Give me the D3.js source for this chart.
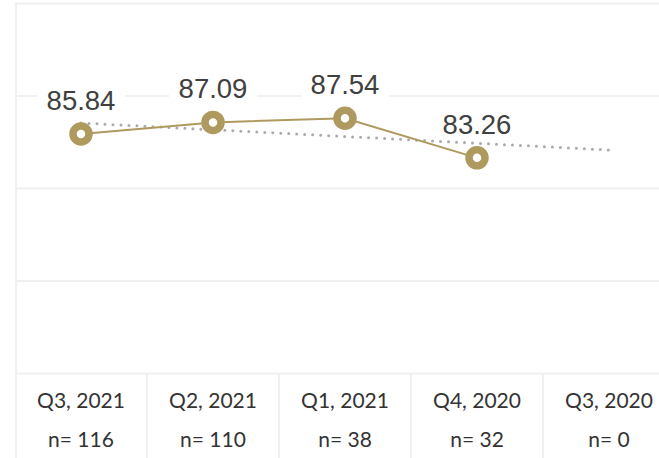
<!DOCTYPE html>
<html>
<head>
<meta charset="utf-8">
<script src="https://cdn.jsdelivr.net/npm/d3@7"></script>
<style>
  html, body { margin: 0; padding: 0; background: #fff; overflow: hidden; }
  svg { display: block; }
</style>
</head>
<body>
<div id="chart"></div>
<script>
// quarters, newest first
var categories = ["Q3, 2021", "Q2, 2021", "Q1, 2021", "Q4, 2020", "Q3, 2020"];
var counts = [116, 110, 38, 32, 0];
var scores = [85.84, 87.09, 87.54, 83.26, null];
var yTicks = [60, 70, 80, 90, 100];

var W = 659, H = 458;
var gold = "#ae9a5e", grid = "#f0f0f0";

var svg = d3.select("#chart").append("svg")
   .attr("width", W)
   .attr("height", H);

var x = d3.scaleBand().domain(categories).range([15, 675]).padding(0);
var y = d3.scaleLinear().domain([60, 100]).range([373, 3]);
var cx = function(c) { return x(c) + x.bandwidth() / 2; };

// horizontal grid lines, drawn with the axis generator
svg.append("g")
   .attr("transform", "translate(15,0)")
   .call(d3.axisLeft(y).tickValues(yTicks).tickSize(-660).tickFormat(""))
   .call(function(g) {
      g.select(".domain").remove();
      g.selectAll(".tick line").attr("stroke", grid).attr("stroke-width", 2);
   });

// left border
svg.append("line")
   .attr("x1", 16).attr("x2", 16)
   .attr("y1", y(100)).attr("y2", H)
   .attr("stroke", grid).attr("stroke-width", 2);

// bottom category "table"
var xAxis = svg.append("g")
   .attr("transform", "translate(0," + y(60) + ")")
   .call(d3.axisBottom(x).tickSize(0).tickPadding(0).tickFormat(function(d) { return d; }));
xAxis.select(".domain").remove();
xAxis.selectAll(".tick text")
   .attr("y", 35)
   .attr("dy", 0)
   .attr("font-family", "Lato, 'Noto Sans', sans-serif")
   .attr("font-size", 21)
   .attr("fill", "#333");
xAxis.selectAll(".tick").append("text")
   .attr("y", 74)
   .attr("text-anchor", "middle")
   .attr("font-family", "Lato, 'Noto Sans', sans-serif")
   .attr("font-size", 21)
   .attr("fill", "#333")
   .text(function(d, i) { return "n= " + counts[i]; });

// column dividers
svg.append("g").selectAll("line")
   .data(categories.slice(1))
   .join("line")
   .attr("x1", function(d) { return x(d); })
   .attr("x2", function(d) { return x(d); })
   .attr("y1", y(60)).attr("y2", H)
   .attr("stroke", grid).attr("stroke-width", 2);

// least squares trend over the quarters that have a score
var pts = scores.map(function(v, i) { return [i, v]; }).filter(function(p) { return p[1] != null; });
var mx = d3.mean(pts, function(p) { return p[0]; });
var my = d3.mean(pts, function(p) { return p[1]; });
var slope = d3.sum(pts, function(p) { return (p[0] - mx) * (p[1] - my); }) /
            d3.sum(pts, function(p) { return (p[0] - mx) * (p[0] - mx); });
var trendAt = function(i) { return my + slope * (i - mx); };
var last = categories.length - 1;

// value labels with white boxes (they cut the grid lines)
var valid = categories.map(function(c, i) { return { c: c, v: scores[i] }; })
   .filter(function(d) { return d.v != null; });

var labels = svg.append("g").selectAll("g")
   .data(valid)
   .join("g")
   .attr("transform", function(d) { return "translate(" + cx(d.c) + "," + (y(d.v) - 24) + ")"; });
labels.append("rect")
   .attr("x", -44).attr("y", -23)
   .attr("width", 88).attr("height", 28)
   .attr("fill", "#fff");
labels.append("text")
   .attr("text-anchor", "middle")
   .attr("font-family", "'Liberation Sans', Arial, sans-serif")
   .attr("font-size", 27.5)
   .attr("fill", "#404040")
   .text(function(d) { return d.v.toFixed(2); });

svg.append("line")
   .attr("x1", cx(categories[0])).attr("y1", y(trendAt(0)))
   .attr("x2", cx(categories[last])).attr("y2", y(trendAt(last)))
   .attr("stroke", "#aaa")
   .attr("stroke-width", 3)
   .attr("stroke-linecap", "round")
   .attr("stroke-dasharray", "0,8");

var line = d3.line()
   .x(function(d) { return cx(d.c); })
   .y(function(d) { return y(d.v); });

svg.append("path")
   .datum(valid)
   .attr("d", line)
   .attr("fill", "none")
   .attr("stroke", gold)
   .attr("stroke-width", 2);

svg.append("g").selectAll("circle")
   .data(valid)
   .join("circle")
   .attr("cx", function(d) { return cx(d.c); })
   .attr("cy", function(d) { return y(d.v); })
   .attr("r", 8)
   .attr("fill", "#fff")
   .attr("stroke", gold)
   .attr("stroke-width", 7.5);
</script>
</body>
</html>
